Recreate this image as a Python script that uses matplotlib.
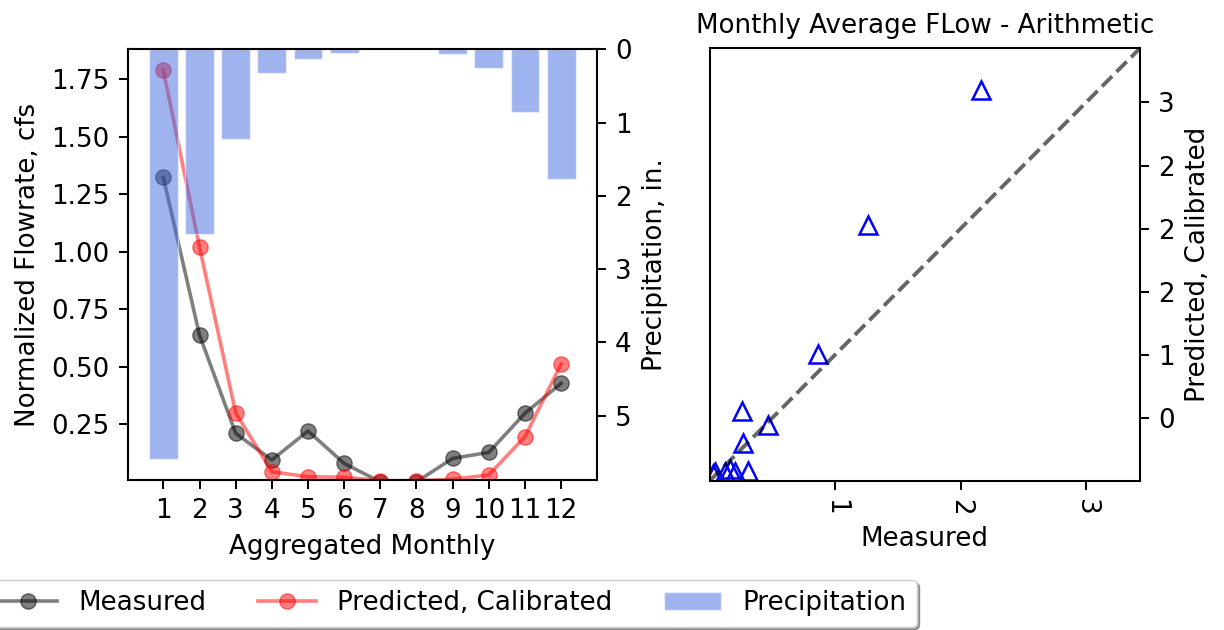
import matplotlib
matplotlib.use("Agg")
import matplotlib.pyplot as plt
from matplotlib.ticker import FormatStrFormatter

# todo escalado ~1.85 respecto a los valores por defecto
esc = 1.85
plt.rcParams.update({
    'font.size': 18.8,
    'axes.linewidth': 0.8 * esc,
    'axes.labelpad': 4.0 * esc,
    'axes.titlepad': 6.0 * esc,
    'xtick.major.size': 3.5 * esc,
    'ytick.major.size': 3.5 * esc,
    'xtick.major.width': 0.8 * esc,
    'ytick.major.width': 0.8 * esc,
    'xtick.major.pad': 3.5 * esc,
    'ytick.major.pad': 3.5 * esc,
})

# datos mensuales
meses = [1, 2, 3, 4, 5, 6, 7, 8, 9, 10, 11, 12]
medido = [1.323, 0.638, 0.211, 0.095, 0.221, 0.080, 0.0, 0.0, 0.102, 0.128, 0.298, 0.428]
predicho = [1.789, 1.021, 0.300, 0.044, 0.022, 0.020, 0.005, 0.005, 0.011, 0.030, 0.196, 0.512]
precipitacion = [5.60, 2.52, 1.22, 0.32, 0.13, 0.05, 0.0, 0.0, 0.07, 0.25, 0.86, 1.77]

# promedio mensual medido vs predicho (dispersion)
disp_medido = [2.165, 1.263, 0.861, 0.256, 0.469, 0.267, 0.31, 0.163, 0.20, 0.12, 0.045, 0.03]
disp_predicho = [3.10, 2.03, 1.006, 0.552, 0.445, 0.303, 0.08, 0.095, 0.07, 0.07, 0.07, 0.055]
limite = 3.43

fig = plt.figure(figsize=(12.24, 6.3), dpi=100)

# panel izquierdo: caudal normalizado + precipitacion invertida
ax1 = fig.add_axes([0.1042, 0.2381, 0.3835, 0.6837])
l1, = ax1.plot(meses, medido, color='black', marker='o', ms=11, lw=2.6, alpha=0.5, label='Measured')
l2, = ax1.plot(meses, predicho, color='red', marker='o', ms=11, lw=2.6, alpha=0.5, label='Predicted, Calibrated')
ax1.set_ylim(0.008, 1.88)
ax1.set_xticks(meses)
ax1.set_yticks([0.25, 0.5, 0.75, 1.0, 1.25, 1.5, 1.75])
ax1.set_ylabel('Normalized Flowrate, cfs')
ax1.set_xlabel('Aggregated Monthly')

ax2 = ax1.twinx()
barras = ax2.bar(meses, precipitacion, width=0.8, color='royalblue', alpha=0.5,
                 edgecolor='white', linewidth=1, label='Precipitation')
ax2.set_ylim(5.88, 0)
ax2.set_ylabel('Precipitation, in.')

# panel derecho: medido vs predicho
ax3 = fig.add_axes([0.5797, 0.2365, 0.3517, 0.687])
ax3.plot(disp_medido, disp_predicho, linestyle='none', marker='^', ms=13,
         mfc='none', mec='blue', mew=1.8)
ax3.plot([0, limite], [0, limite], 'k--', lw=2.8, alpha=0.6)
ax3.set_xlim(0, limite)
ax3.set_ylim(0, limite)
ax3.set_xticks([1, 2, 3])
ax3.set_yticks([0.5, 1.0, 1.5, 2.0, 2.5, 3.0])
ax3.yaxis.set_major_formatter(FormatStrFormatter('%.0f'))
ax3.yaxis.tick_right()
ax3.yaxis.set_label_position('right')
plt.setp(ax3.get_xticklabels(), rotation=270)
ax3.set_xlabel('Measured')
ax3.set_ylabel('Predicted, Calibrated')
ax3.set_title('Monthly Average FLow - Arithmetic', fontsize=18.8)

fig.legend(handles=[l1, l2, barras], ncol=3, loc='upper right',
           bbox_to_anchor=(0.749, 0.0794), borderaxespad=0, shadow=True,
           handlelength=2.2)

fig.savefig('out.png', dpi=100)
